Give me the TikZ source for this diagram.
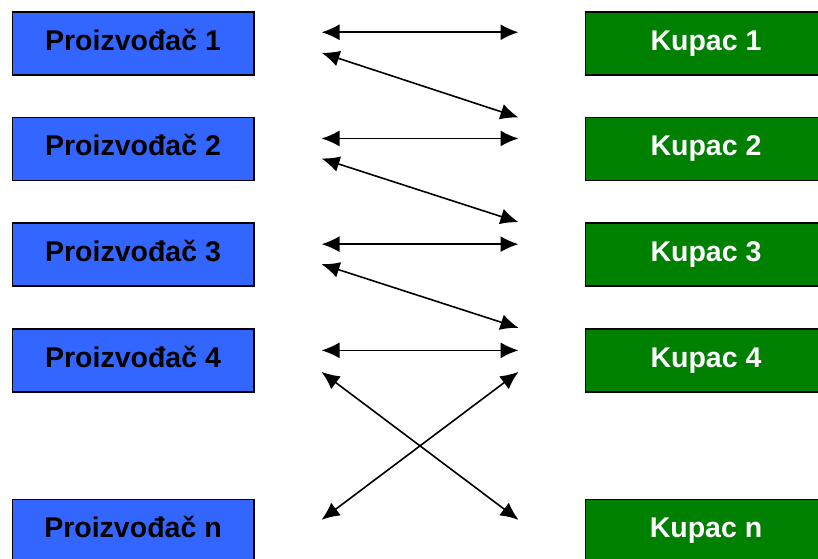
\documentclass[tikz,border=0pt]{standalone}
\usepackage{fontspec}
\setmainfont{Liberation Sans}
\usetikzlibrary{arrows.meta,positioning,calc}
\definecolor{prodblue}{HTML}{3366FF}
\definecolor{buygreen}{HTML}{008000}

\begin{document}
\begin{tikzpicture}[
  >={Latex[length=18pt,width=16pt]},
  node distance=41.2pt and 330pt,
  % Styles
  proizv/.style={draw=black, line width=1.5pt, fill=prodblue,
    minimum width=241.5pt, minimum height=63pt, inner sep=0pt,
    text height=20pt, text depth=6pt,
    font=\fontsize{28.5}{32}\selectfont\bfseries, text=black},
  kupac/.style={draw=black, line width=1.5pt, fill=buygreen,
    minimum width=241.5pt, minimum height=63pt, inner sep=0pt,
    text height=20pt, text depth=6pt,
    font=\fontsize{28.5}{32}\selectfont\bfseries, text=white},
  arrow/.style={<->, line width=1.6pt, draw=black},
]

\useasboundingbox (0,0) rectangle (818pt,-558pt);

% === LEFT: Proizvodjaci ===
\node[proizv, anchor=north west] (p1) at (11.5pt,-11pt) {Proizvođač 1};
\node[proizv, below=of p1] (p2) {Proizvođač 2};
\node[proizv, below=of p2] (p3) {Proizvođač 3};
\node[proizv, below=of p3] (p4) {Proizvođač 4};
\node[proizv, below=106pt of p4] (pn) {Proizvođač n};

% === RIGHT: Kupci ===
\node[kupac, right=of p1] (k1) {Kupac 1};
\node[kupac, right=of p2] (k2) {Kupac 2};
\node[kupac, right=of p3] (k3) {Kupac 3};
\node[kupac, right=of p4] (k4) {Kupac 4};
\node[kupac, right=of pn] (kn) {Kupac n};

% === Arrow ends ===
\coordinate (l1) at ($(p1.east)+(67pt,11pt)$);
\coordinate (r1) at ($(k1.west)+(-66pt,11pt)$);
\coordinate (l2) at ($(p2.east)+(67pt,10.5pt)$);
\coordinate (r2) at ($(k2.west)+(-66pt,10.5pt)$);
\coordinate (l3) at ($(p3.east)+(67pt,10.5pt)$);
\coordinate (r3) at ($(k3.west)+(-66pt,10.5pt)$);
\coordinate (l4) at ($(p4.east)+(67pt,10pt)$);
\coordinate (r4) at ($(k4.west)+(-66pt,10pt)$);

\coordinate (d1) at ($(p1.east)+(67pt,-9.5pt)$);
\coordinate (e1) at ($(k2.west)+(-66pt,31.5pt)$);
\coordinate (d2) at ($(p2.east)+(67pt,-9.5pt)$);
\coordinate (e2) at ($(k3.west)+(-66pt,32.5pt)$);
\coordinate (d3) at ($(p3.east)+(67pt,-9.5pt)$);
\coordinate (e3) at ($(k4.west)+(-66pt,32.5pt)$);

\coordinate (x1) at ($(p4.east)+(67pt,-11.5pt)$);
\coordinate (y1) at ($(kn.west)+(-66pt,11pt)$);
\coordinate (x2) at ($(k4.west)+(-66pt,-11.5pt)$);
\coordinate (y2) at ($(pn.east)+(67pt,11pt)$);

% === Arrows ===
\draw[arrow] (l1) -- (r1);
\draw[arrow] (d1) -- (e1);
\draw[arrow] (l2) -- (r2);
\draw[arrow] (d2) -- (e2);
\draw[arrow] (l3) -- (r3);
\draw[arrow] (d3) -- (e3);
\draw[arrow] (l4) -- (r4);
\draw[arrow] (x1) -- (y1);
\draw[arrow] (x2) -- (y2);

\end{tikzpicture}
\end{document}
